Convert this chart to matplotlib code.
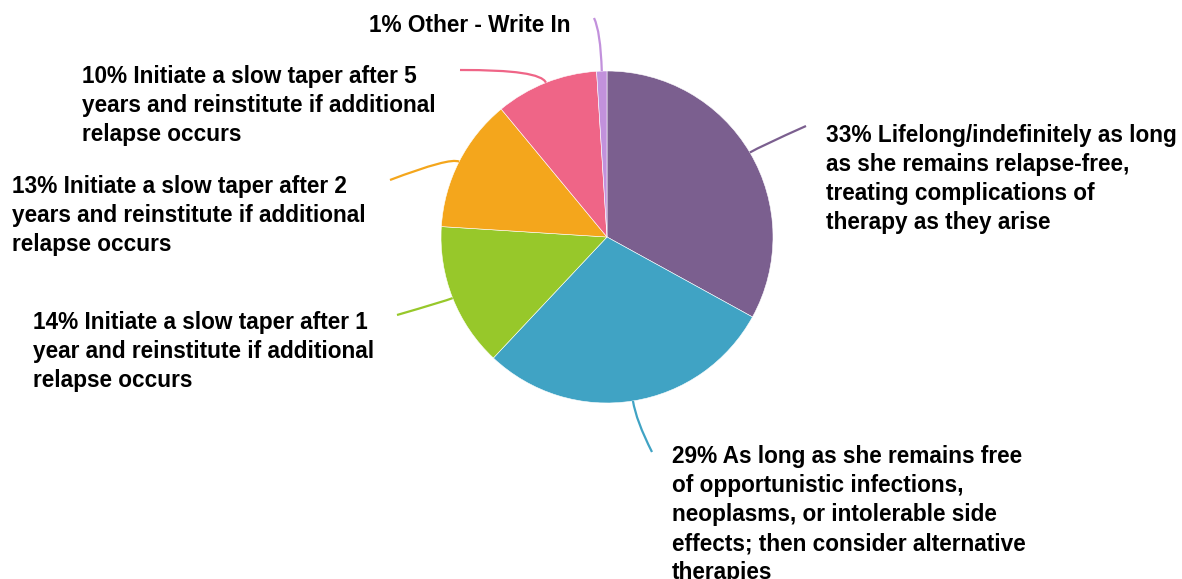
import numpy as np
import matplotlib.pyplot as plt
from matplotlib.path import Path
from matplotlib.patches import PathPatch

plt.rcParams['font.family'] = ['Liberation Sans', 'DejaVu Sans']

# data
shares = [33, 29, 14, 13, 10, 1]
labels = [
    "33% Lifelong/indefinitely as long\nas she remains relapse-free,\ntreating complications of\ntherapy as they arise",
    "29% As long as she remains free\nof opportunistic infections,\nneoplasms, or intolerable side\neffects; then consider alternative\ntherapies",
    "14% Initiate a slow taper after 1\nyear and reinstitute if additional\nrelapse occurs",
    "13% Initiate a slow taper after 2\nyears and reinstitute if additional\nrelapse occurs",
    "10% Initiate a slow taper after 5\nyears and reinstitute if additional\nrelapse occurs",
    "1% Other - Write In",
]
colors = ['#7B5F8F', '#40A3C4', '#97C82A', '#F4A61C', '#EF6587', '#C291DC']

W, H = 1182, 579
cx, cy, R = 607, 237, 166

# label layout (pixel coords, top-left of text block) and leader end points
text_pos = [(826, 124), (672, 445), (33, 311), (12, 175), (82, 65), (369, 14)]
line_end = [(806, 126), (652, 452), (397, 315), (390, 180), (460, 70), (594, 18)]
elbow = [12, 20, 8, 10, 14, 40]

fig = plt.figure(figsize=(W / 100, H / 100), dpi=100)
ax = fig.add_axes([0, 0, 1, 1])

wedges, _ = ax.pie(shares, colors=colors, startangle=90, counterclock=False,
                   center=(cx, H - cy), radius=R,
                   wedgeprops=dict(edgecolor='white', linewidth=0.4))
ax.set_xlim(0, W)
ax.set_ylim(0, H)
ax.set_aspect('equal')
ax.axis('off')

for w, lab, (tx, ty), (ex, ey), el, col in zip(
        wedges, labels, text_pos, line_end, elbow, colors):
    ang = np.deg2rad((w.theta1 + w.theta2) / 2)
    sx = cx + R * np.cos(ang)
    sy = (H - cy) + R * np.sin(ang)
    kx = cx + (R + el) * np.cos(ang)
    ky = (H - cy) + (R + el) * np.sin(ang)
    path = Path([(sx, sy), (kx, ky), (ex, H - ey)],
                [Path.MOVETO, Path.CURVE3, Path.CURVE3])
    ax.add_patch(PathPatch(path, fill=False, edgecolor=col, linewidth=1.6))
    ax.text(tx, H - ty, lab, ha='left', va='top', fontsize=16.3,
            fontweight='bold', linespacing=1.34, color='black')

fig.savefig('out.png', dpi=100, facecolor='white')
